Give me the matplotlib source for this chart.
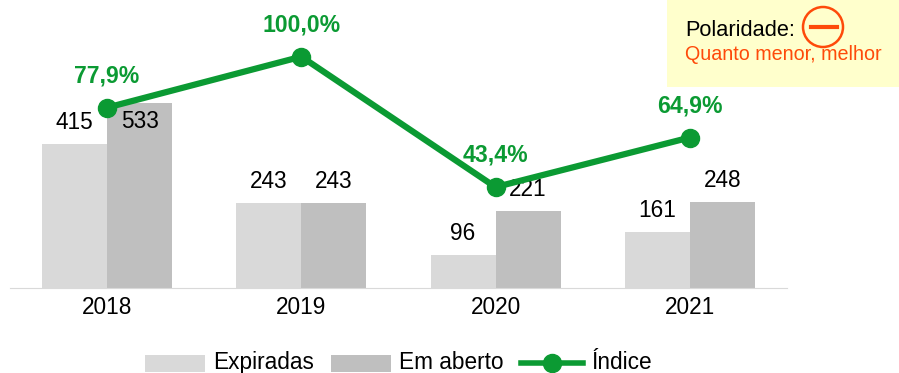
import numpy as np
import matplotlib
matplotlib.use("Agg")
import matplotlib.pyplot as plt
from matplotlib.patches import Rectangle
from matplotlib.lines import Line2D

anos = ["2018", "2019", "2020", "2021"]
expiradas = [415, 243, 96, 161]
em_aberto = [533, 243, 221, 248]
indice = [77.9, 100.0, 43.4, 64.9]
indice_txt = ["77,9%", "100,0%", "43,4%", "64,9%"]

plt.rcParams['font.family'] = ['Liberation Sans', 'DejaVu Sans']

W, H = 899, 373
VERDE = '#0b9a33'
LARANJA = '#fe4a0a'
FS = 16.3

fig = plt.figure(figsize=(W / 100, H / 100), dpi=100)

# eixo das barras, base em y=288px
ax = fig.add_axes([10 / W, 1 - 288 / H, 776.8 / W, 288 / H])
x = np.arange(4)
larg = 65 / 194.2
ax.bar(x - larg / 2, expiradas, larg, color='#d9d9d9')
ax.bar(x + larg / 2, em_aberto, larg, color='#bfbfbf')
ax.set_xlim(-0.5, 3.5)
ax.set_ylim(0, 533 * 288 / 185.5)
ax.set_yticks([])
ax.set_xticks(x)
ax.set_xticklabels(anos, fontsize=FS, color='black')
ax.tick_params(axis='x', length=0, pad=6)
for s in ['top', 'left', 'right']:
    ax.spines[s].set_visible(False)
ax.spines['bottom'].set_color('#d9d9d9')
ax.patch.set_alpha(0)

for i in x:
    ax.annotate(str(expiradas[i]), (i - larg / 2, expiradas[i]), xytext=(0, 15.5),
                textcoords='offset points', ha='center', va='center', fontsize=FS)
    # o 533 fica dentro da barra no original
    dy = -14 if em_aberto[i] == 533 else 15.5
    ax.annotate(str(em_aberto[i]), (i + larg / 2, em_aberto[i]), xytext=(0, dy),
                textcoords='offset points', ha='center', va='center', fontsize=FS)

# eixo do indice
ax2 = ax.twinx()
ax2.set_ylim(-0.4, 124.6)
ax2.axis('off')
ax2.plot(x, indice, color=VERDE, lw=4.5, marker='o', ms=13, solid_capstyle='round')
for i in x:
    ax2.annotate(indice_txt[i], (i, indice[i]), xytext=(0, 23), textcoords='offset points',
                 ha='center', va='center', fontsize=16.6, fontweight='bold', color=VERDE)

# caixa de polaridade
fig.add_artist(Rectangle((667 / W, 1 - 87 / H), 232 / W, 87 / H, transform=fig.transFigure,
                         facecolor='#ffffcc', edgecolor='none', zorder=5))
fig.text(685 / W, 1 - 30 / H, "Polaridade:", fontsize=15.7, va='center', color='black', zorder=6)
circ = plt.Circle((823, H - 27), 20, transform=None, facecolor='none', edgecolor=LARANJA, lw=1.8, zorder=7)
fig.add_artist(circ)
fig.add_artist(Line2D([811 / W, 837 / W], [1 - 27 / H, 1 - 27 / H], color=LARANJA, lw=3, zorder=7))
fig.text(685 / W, 1 - 55 / H, "Quanto menor, melhor", fontsize=14.2, va='center', color=LARANJA, zorder=8)

# legenda feita a mao para acertar as posicoes
fig.add_artist(Rectangle((145 / W, 1 - 372 / H), 60 / W, 17 / H, transform=fig.transFigure, facecolor='#d9d9d9', edgecolor='none'))
fig.text(213 / W, 1 - 369 / H, "Expiradas", fontsize=FS, va='baseline')
fig.add_artist(Rectangle((331 / W, 1 - 372 / H), 60 / W, 17 / H, transform=fig.transFigure, facecolor='#bfbfbf', edgecolor='none'))
fig.text(399 / W, 1 - 369 / H, "Em aberto", fontsize=FS, va='baseline')
fig.add_artist(Line2D([521 / W, 552 / W, 583 / W], [1 - 363 / H] * 3, color=VERDE, lw=4,
                      marker='o', ms=13, markevery=[1]))
fig.text(591 / W, 1 - 369 / H, "Índice", fontsize=FS, va='baseline')

fig.savefig("out.png", dpi=100)
